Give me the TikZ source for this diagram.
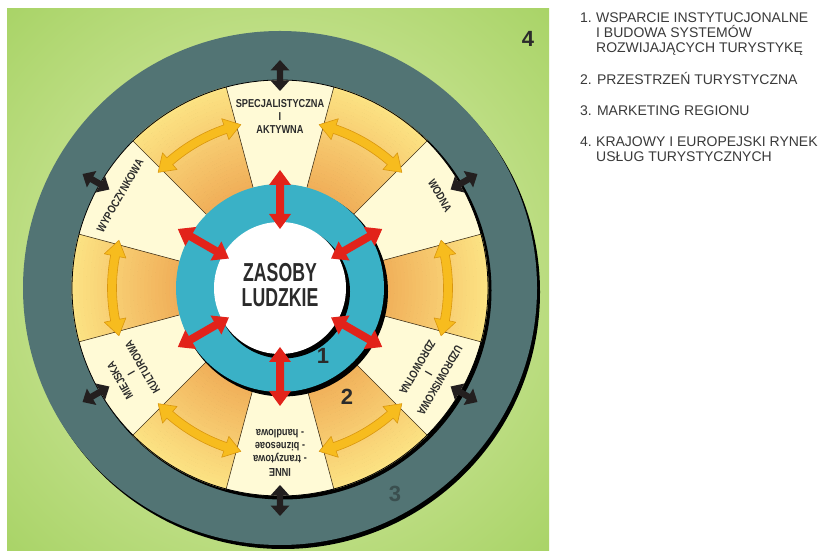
\documentclass[tikz,border=0pt]{standalone}
\usepackage{fontspec}
\setmainfont{Liberation Sans}
\newfontfamily\narrowfont[FakeStretch=0.8]{Liberation Sans}
\newfontfamily\narrowerfont[FakeStretch=0.68]{Liberation Sans}
\usetikzlibrary{calc}

\definecolor{slate}{HTML}{527474}
\definecolor{tealc}{HTML}{3AB1C6}
\definecolor{creamc}{HTML}{FFFAD6}
\definecolor{yelc}{HTML}{FCE283}
\definecolor{orac}{HTML}{F0AE58}
\definecolor{arrowyel}{HTML}{F7BC1E}
\definecolor{arrowyeledge}{HTML}{D9960E}
\definecolor{redc}{HTML}{E2231A}
\definecolor{blackc}{HTML}{231F1F}
\definecolor{linec}{HTML}{4A3B22}
\definecolor{textc}{HTML}{2B2B2B}
\definecolor{legc}{HTML}{3A3A3A}
\definecolor{threec}{HTML}{3A4F4F}
\definecolor{gA}{HTML}{D2E9A3}
\definecolor{gB}{HTML}{C2E08A}
\definecolor{gC}{HTML}{A8D366}
\definecolor{gD}{HTML}{8EC744}
\definecolor{gE}{HTML}{80BF35}

\pgfdeclareradialshading{greenbg}{\pgfpoint{0bp}{0bp}}{color(0bp)=(gA); color(20bp)=(gB); color(36bp)=(gC); color(50bp)=(gD); color(72bp)=(gE)}

% radial straight double arrow: angle, r1, r2, half shaft, half head, head length, style
\newcommand\RadArrow[7]{%
  \begin{scope}[rotate=#1]
    \path[#7] (#2,0) -- ({#2+#6},#5) -- ({#2+#6},#4) -- ({#3-#6},#4) -- ({#3-#6},#5)
      -- (#3,0) -- ({#3-#6},-#5) -- ({#3-#6},-#4) -- ({#2+#6},-#4) -- ({#2+#6},-#5) -- cycle;
  \end{scope}}
% curved double arrow: centre angle, half span, radius, half shaft, half head, head angle, style
\newcommand\CurvArrow[7]{%
  \path[#7] ({#1+#2}:#3) -- ({#1+#2-#6}:{#3+#5}) -- ({#1+#2-#6}:{#3+#4})
    arc[start angle={#1+#2-#6}, end angle={#1-#2+#6}, radius={#3+#4}]
    -- ({#1-#2+#6}:{#3+#5}) -- ({#1-#2}:#3) -- ({#1-#2+#6}:{#3-#5}) -- ({#1-#2+#6}:{#3-#4})
    arc[start angle={#1-#2+#6}, end angle={#1+#2-#6}, radius={#3-#4}]
    -- ({#1+#2-#6}:{#3-#5}) -- cycle;}

\tikzset{
  seclab/.style={font=\narrowfont\bfseries\fontsize{11.5}{13}\selectfont, text=textc,
    align=center, inner sep=0pt, anchor=north},
  bignum/.style={font=\bfseries\fontsize{22}{22}\selectfont, text=textc, inner sep=0pt},
  legtext/.style={font=\fontsize{14}{15}\selectfont, text=legc, inner sep=0pt, anchor=base west},
  redarrow/.style={fill=redc},
  blkarrow/.style={fill=blackc},
  yelarrow/.style={fill=arrowyel, draw=arrowyeledge, line width=0.6pt, line join=round},
}

\begin{document}
\begin{tikzpicture}[x=1pt,y=1pt]
\useasboundingbox (0,0) rectangle (821,554);
\fill[white] (0,0) rectangle (821,554);
\shade[shading=greenbg] (7,4) rectangle (549,545);

\begin{scope}[shift={(280,266)}]
  % outer dark ring
  \fill[black] (3,-4) circle (257);
  \fill[slate] (0,0) circle (257);
  % sector ring
  \fill[black] (2.5,-2.5) circle (209);
  \foreach \a in {90,30,-30,-90,-150,150}
    \fill[creamc] (0,0) -- (\a-15:208) arc[start angle=\a-15, end angle=\a+15, radius=208] -- cycle;
  \foreach \a in {60,0,-60,-120,180,120}{
    \foreach \i in {0,...,29}{
      \pgfmathsetmacro\rin{100+\i*3.6}
      \pgfmathsetmacro\rout{\rin+4.1}
      \pgfmathtruncatemacro\p{100*\i/29}
      \fill[yelc!\p!orac] (\a-15:\rin) arc[start angle=\a-15, end angle=\a+15, radius=\rin]
        -- (\a+15:\rout) arc[start angle=\a+15, end angle=\a-15, radius=\rout] -- cycle;
    }
  }
  \foreach \a in {15,45,...,345}
    \draw[linec, line width=0.6pt] (\a:104) -- (\a:208);
  \draw[black, line width=0.8pt] (0,0) circle (208);
  % teal ring
  \fill[black] (3,-3.5) circle (105);
  \fill[tealc] (0,0) circle (104);
  % white centre
  \fill[black] (3,-3.5) circle (67);
  \fill[white] (0,0) circle (66);

  % arrows
  \foreach \a in {90,30,-30,-90,-150,150}{
    \RadArrow{\a}{59}{118}{4}{11}{15}{redarrow}
    \RadArrow{\a}{197}{228}{3.2}{9.5}{10.5}{blkarrow}
  }
  \foreach \a in {120,60,0,-60,-120,180}{
    \CurvArrow{\a}{16.5}{168}{4.5}{11}{5.5}{yelarrow}
  }

  % sector labels
  \node[seclab, rotate=0] (lab1) at (90:189) {SPECJALISTYCZNA\\I\\AKTYWNA};
  \node[seclab, rotate=-60] (lab2) at (30:189) {WODNA};
  \node[seclab, rotate=-120] (lab3) at (-30:189) {UZDROWISKOWA\\I\\ZDROWOTNA};
  \node[seclab, rotate=180] (lab4) at (-90:189) {INNE\\- tranzytowa\\- biznesoae\\- handlowa};
  \node[seclab, rotate=120] (lab5) at (-150:189) {MIEJSKA\\I\\KULTUROWA};
  \node[seclab, rotate=60] (lab6) at (150:189) {WYPOCZYNKOWA};

  \node[font=\narrowerfont\bfseries\fontsize{26}{25}\selectfont, text=textc, align=center, inner sep=0pt]
    (zl) at (0,3) {ZASOBY\\LUDZKIE};

  \node[bignum] (n1) at (43,-68) {1};
  \node[bignum] (n2) at (67,-109) {2};
  \node[bignum, text=threec] (n3) at (115,-206) {3};
\end{scope}
\node[bignum] (n4) at (528,515) {4};

% legend
\node[legtext] (l1n) at (580,531) {1.};
\node[legtext] (l1a) at ($(l1n.base east)+(3.9,0)$) {WSPARCIE INSTYTUCJONALNE};
\node[legtext] (l1b) at ($(l1a.base west)+(0,-15)$) {I BUDOWA SYSTEMÓW};
\node[legtext] (l1c) at ($(l1b.base west)+(0,-15)$) {ROZWIJAJĄCYCH TURYSTYKĘ};
\node[legtext] (l2) at (580,469) {2. PRZESTRZEŃ TURYSTYCZNA};
\node[legtext] (l3) at (580,438) {3. MARKETING REGIONU};
\node[legtext] (l4n) at (580,407) {4.};
\node[legtext] (l4a) at ($(l4n.base east)+(3.9,0)$) {KRAJOWY I EUROPEJSKI RYNEK};
\node[legtext] (l4b) at ($(l4a.base west)+(0,-15)$) {USŁUG TURYSTYCZNYCH};
\end{tikzpicture}
\end{document}
